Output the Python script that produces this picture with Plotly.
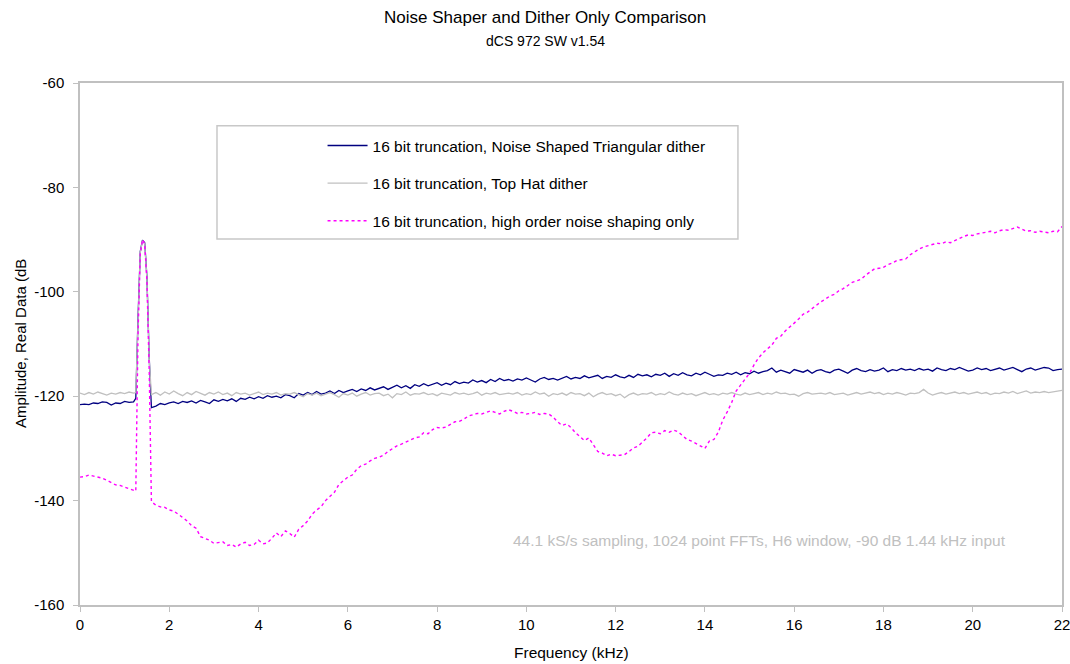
import plotly.graph_objects as go

# Frequency grid (kHz): low band, around the 1.44 kHz test tone, high band
freq_lo = [0.0, 0.1, 0.2, 0.3, 0.4, 0.5, 0.6, 0.7, 0.8, 0.9, 1.0, 1.1, 1.2]
freq_spike = [1.25, 1.3, 1.35, 1.4, 1.45, 1.5, 1.55, 1.6]
freq_hi = [round(1.7 + 0.1 * i, 2) for i in range(204)]
freq = freq_lo + freq_spike + freq_hi

# 16 bit truncation, Noise Shaped Triangular dither (dB)
tri_lo = [-121.6, -121.5, -121.6, -121.3, -121.4, -121.1, -121.2, -121.7, -121.3, -121.4, -121.0, -121.2, -121.1]
tri_spike = [-120.4, -105.0, -92.3, -90.1, -90.6, -97.2, -112.5, -122.2]
tri_hi = [
    -121.9, -121.4, -121.6, -121.3, -121.1, -121.4, -121.0, -121.2, -120.9, -121.3,
    -120.8, -121.1, -121.4, -120.7, -121.0, -120.6, -120.9, -120.5, -121.0, -120.4,
    -120.6, -120.2, -120.5, -120.1, -120.4, -119.9, -120.2, -120.0, -120.3, -119.7,
    -119.9, -120.3, -119.5, -119.8, -119.3, -119.7, -119.1, -119.6, -119.4, -119.0,
    -119.5, -118.9, -119.3, -119.0, -118.7, -119.1, -118.6, -118.9, -118.4, -118.8,
    -118.5, -118.2, -118.7, -118.3, -117.9, -118.4, -118.0, -118.5, -117.8, -118.1,
    -117.6, -118.0, -117.7, -117.4, -117.9, -117.5, -117.8, -117.2, -117.6, -117.3,
    -117.5, -116.9, -117.3, -117.0, -117.4, -116.8, -117.2, -116.6, -117.0, -116.8,
    -117.1, -116.7, -116.9, -116.5, -116.9, -117.3, -116.7, -116.4, -116.8, -116.6,
    -116.9, -116.5, -116.2, -116.7, -116.4, -116.6, -116.1, -116.5, -116.3, -116.0,
    -116.6, -116.2, -116.4, -115.9, -116.3, -116.5, -116.0, -116.4, -115.8, -116.1,
    -115.9, -116.3, -115.8, -116.0, -115.6, -116.2, -115.7, -116.0, -115.5, -115.9,
    -116.1, -115.6, -115.9, -115.4, -115.8, -116.2, -115.9, -116.0, -115.6, -115.8,
    -115.4, -115.9, -115.5, -115.7, -115.2, -115.6, -115.3, -115.1, -114.6, -115.4,
    -115.0, -115.3, -115.6, -114.9, -115.2, -115.4, -115.0, -115.6, -115.1, -114.9,
    -115.3, -115.5, -115.0, -114.8, -115.2, -115.6, -115.0, -114.7, -115.1, -115.3,
    -114.9, -115.2, -115.0, -114.6, -115.3, -114.9, -115.1, -114.7, -115.0, -114.8,
    -115.1, -114.7, -115.0, -114.8, -115.2, -114.6, -114.9, -115.1, -114.7, -114.9,
    -114.5, -114.8, -115.2, -115.0, -114.6, -114.9, -114.7, -115.1, -114.8, -114.6,
    -115.0, -114.7, -114.5, -114.9, -115.3, -114.8, -114.6, -115.0, -114.7, -114.5,
    -114.6, -115.1, -114.9, -114.8,
]
tri = tri_lo + tri_spike + tri_hi

# 16 bit truncation, Top Hat dither (dB)
hat_lo = [-119.4, -119.7, -119.3, -119.6, -119.2, -119.5, -119.8, -119.4, -119.6, -119.3, -119.5, -119.2, -119.4]
hat_spike = [-119.3, -106.0, -92.5, -90.2, -90.8, -97.5, -113.0, -119.7]
hat_hi = [
    -119.3, -119.8, -119.2, -119.6, -119.0, -119.5, -119.9, -119.3, -119.7, -119.1,
    -119.5, -119.8, -119.3, -119.6, -119.2, -119.7, -119.4, -119.9, -119.3, -119.6,
    -119.4, -119.8, -119.5, -119.2, -119.7, -119.4, -119.6, -119.3, -119.8, -119.5,
    -119.6, -119.3, -119.7, -120.1, -119.5, -119.8, -119.4, -119.9, -119.6, -119.3,
    -119.7, -120.2, -119.5, -119.8, -119.4, -120.0, -119.6, -119.3, -119.8, -119.5,
    -119.4, -119.9, -119.6, -120.3, -119.5, -119.7, -119.2, -119.8, -119.5, -119.6,
    -119.3, -119.7, -119.5, -119.9, -119.4, -119.6, -119.8, -119.3, -119.6, -119.4,
    -119.7, -119.5, -119.2, -119.8, -119.4, -119.6, -119.3, -119.7, -119.5, -119.4,
    -119.6, -119.3, -119.8, -119.5, -119.7, -119.2, -119.6, -119.4, -120.0, -119.5,
    -119.7, -119.4, -119.8, -119.3, -119.6, -119.5, -119.9, -119.4, -120.1, -119.6,
    -119.3, -119.7, -119.5, -119.9, -119.6, -120.3, -119.7, -119.4, -119.8, -119.5,
    -119.6, -119.3, -119.8, -119.5, -119.7, -119.2, -119.6, -119.8, -119.4, -119.7,
    -119.5, -119.9, -119.6, -119.3, -119.7, -119.5, -119.8, -119.4, -119.6, -119.3,
    -119.6, -119.8, -119.4, -119.7, -119.5, -119.3, -119.7, -119.4, -119.6, -119.2,
    -119.5, -119.4, -119.7, -119.6, -120.0, -119.5, -119.3, -119.6, -119.5, -119.4,
    -119.6, -119.3, -119.7, -119.5, -119.4, -119.8, -119.5, -119.3, -119.6, -119.4,
    -119.2, -119.5, -119.3, -119.7, -119.4, -119.6, -119.3, -119.5, -119.8, -119.4,
    -119.5, -119.3, -118.7, -119.4, -119.8, -119.5, -119.3, -119.6, -119.4, -119.2,
    -119.5, -119.3, -119.6, -119.4, -119.2, -119.5, -119.3, -119.7, -119.4, -119.5,
    -119.2, -119.4, -119.1, -119.5, -119.3, -119.0, -119.4, -119.2, -119.3, -119.1,
    -119.3, -119.2, -119.0, -118.9,
]
hat = hat_lo + hat_spike + hat_hi

# 16 bit truncation, high order noise shaping only (dB)
ns_lo = [-135.5, -135.4, -135.1, -135.3, -135.6, -135.7, -136.1, -136.6, -137.0, -137.1, -137.4, -137.7, -138.0]
ns_spike = [-138.2, -108.0, -92.8, -90.0, -90.9, -98.0, -115.0, -140.2]
ns_hi = [
    -140.9, -141.2, -141.3, -141.8, -142.0, -142.6, -143.3, -143.9, -144.8, -145.3,
    -146.9, -147.3, -147.6, -148.2, -148.0, -147.9, -148.6, -148.4, -148.9, -148.3,
    -148.0, -148.6, -148.4, -147.6, -148.3, -148.1, -147.2, -146.2, -146.9, -145.8,
    -146.3, -147.0, -145.5, -144.8, -143.9, -142.6, -141.8, -141.2, -140.0, -139.2,
    -138.4, -136.9, -136.2, -135.5, -135.1, -134.0, -133.3, -133.0, -132.4, -131.9,
    -131.7, -131.3, -130.6, -130.0, -129.5, -129.2, -128.8, -128.4, -128.0, -127.8,
    -127.0, -127.2, -126.4, -126.0, -126.1, -125.9, -125.4, -124.9, -124.8, -124.4,
    -123.8, -123.5, -123.3, -123.4, -123.1, -122.8, -123.1, -123.4, -122.9, -122.6,
    -122.9, -123.3, -123.1, -123.4, -123.3, -123.1, -123.5, -123.3, -123.4, -124.0,
    -124.9, -125.6, -125.3, -126.0, -127.0, -127.8, -128.5, -128.0, -129.3, -130.6,
    -130.9, -131.4, -131.1, -131.4, -131.3, -131.2, -130.6, -129.9, -129.6, -128.8,
    -128.0, -127.0, -126.9, -127.2, -126.6, -126.9, -126.5, -126.8, -127.6, -128.3,
    -128.6, -129.1, -129.5, -130.0, -128.6, -128.3, -126.9, -124.6, -123.0, -121.2,
    -119.0, -117.8, -116.8, -115.6, -114.0, -112.7, -111.7, -110.9, -110.2, -108.9,
    -108.5, -107.5, -106.8, -106.0, -105.2, -104.3, -103.9, -103.2, -102.6, -101.9,
    -101.4, -100.8, -100.5, -99.8, -99.4, -98.8, -98.2, -97.9, -97.6, -96.8,
    -96.2, -95.6, -95.5, -95.3, -94.8, -94.5, -94.0, -93.9, -93.7, -92.9,
    -92.3, -91.8, -91.4, -91.2, -91.0, -90.7, -90.8, -90.4, -90.6, -90.2,
    -89.7, -89.4, -89.1, -89.2, -88.9, -88.8, -88.6, -88.4, -88.7, -88.3,
    -88.1, -88.2, -87.9, -87.6, -88.0, -88.4, -88.3, -88.6, -88.4, -88.6,
    -88.7, -88.4, -88.5, -87.5,
]
ns = ns_lo + ns_spike + ns_hi

x_ticks = [0, 2, 4, 6, 8, 10, 12, 14, 16, 18, 20, 22]
y_ticks = [-60, -80, -100, -120, -140, -160]

names = [
    "16 bit truncation, Noise Shaped Triangular dither",
    "16 bit truncation, Top Hat dither",
    "16 bit truncation, high order noise shaping only",
]

FONT = "Liberation Sans, Arial, sans-serif"
AXIS_GRAY = "#c0c0c0"

fig = go.Figure()
fig.add_trace(go.Scatter(x=freq, y=tri, mode="lines", name=names[0], legendgroup="a",
                         line=dict(color="#000080", width=1.3)))
fig.add_trace(go.Scatter(x=freq, y=hat, mode="lines", name=names[1], legendgroup="b",
                         line=dict(color="#c0c0c0", width=1.3)))
fig.add_trace(go.Scatter(x=freq, y=ns, mode="lines", name=names[2], legendgroup="c",
                         line=dict(color="#ff00ff", width=1.4, dash="dot")))

fig.update_layout(
    width=1070, height=664,
    margin=dict(l=80, r=8, t=83, b=59),
    paper_bgcolor="white", plot_bgcolor="white",
    font=dict(family=FONT, size=15, color="black"),
    showlegend=True,
    legend=dict(x=0.247, y=0.912, xanchor="left", yanchor="top",
                bgcolor="rgba(0,0,0,0)", borderwidth=0,
                font=dict(size=15.5, family=FONT), tracegroupgap=14.5,
                itemwidth=40),
    xaxis=dict(range=[0, 22], tickvals=x_ticks, ticktext=[str(v) for v in x_ticks],
               showgrid=False, zeroline=False, showline=True, linecolor=AXIS_GRAY,
               linewidth=1.5, mirror=True, ticks="outside", ticklen=5, tickcolor=AXIS_GRAY,
               tickfont=dict(size=15, family=FONT), automargin=False,
               ticklabeloverflow="allow"),
    yaxis=dict(range=[-160, -60], tickvals=y_ticks, ticktext=[str(v) for v in y_ticks],
               showgrid=False, zeroline=False, showline=True, linecolor=AXIS_GRAY,
               linewidth=1.5, mirror=True, ticks="outside", ticklen=5, tickcolor=AXIS_GRAY,
               tickfont=dict(size=15, family=FONT), automargin=False,
               ticklabelstandoff=6, ticklabeloverflow="allow"),
    shapes=[dict(type="rect", xref="paper", yref="paper",
                 x0=0.1395, x1=0.670, y0=0.701, y1=0.918,
                 line=dict(color="#c8c8c8", width=1.5), fillcolor="white", layer="below")],
    annotations=[
        dict(text="Noise Shaper and Dither Only Comparison", xref="paper", yref="paper",
             x=(545 - 80) / 982, y=(605 - 17) / 522, showarrow=False,
             font=dict(size=17, family=FONT), xanchor="center", yanchor="middle"),
        dict(text="dCS 972 SW v1.54", xref="paper", yref="paper",
             x=(545 - 80) / 982, y=(605 - 41) / 522, showarrow=False,
             font=dict(size=14, family=FONT), xanchor="center", yanchor="middle"),
        dict(text="Frequency (kHz)", xref="paper", yref="paper",
             x=(571 - 80) / 982, y=(605 - 653) / 522, showarrow=False,
             font=dict(size=15.5, family=FONT), xanchor="center", yanchor="middle"),
        dict(text="Amplitude, Real Data (dB", xref="paper", yref="paper",
             x=(20 - 80) / 982, y=(605 - 344) / 522, showarrow=False, textangle=-90,
             font=dict(size=15, family=FONT), xanchor="center", yanchor="middle"),
        dict(text="44.1 kS/s sampling, 1024 point FFTs, H6 window, -90 dB 1.44 kHz input",
             xref="paper", yref="paper", x=(759 - 80) / 982, y=(605 - 540) / 522,
             showarrow=False, font=dict(size=15.5, family=FONT, color="#c0c0c0"),
             xanchor="center", yanchor="middle"),
    ],
)

fig.write_html("out.html")
